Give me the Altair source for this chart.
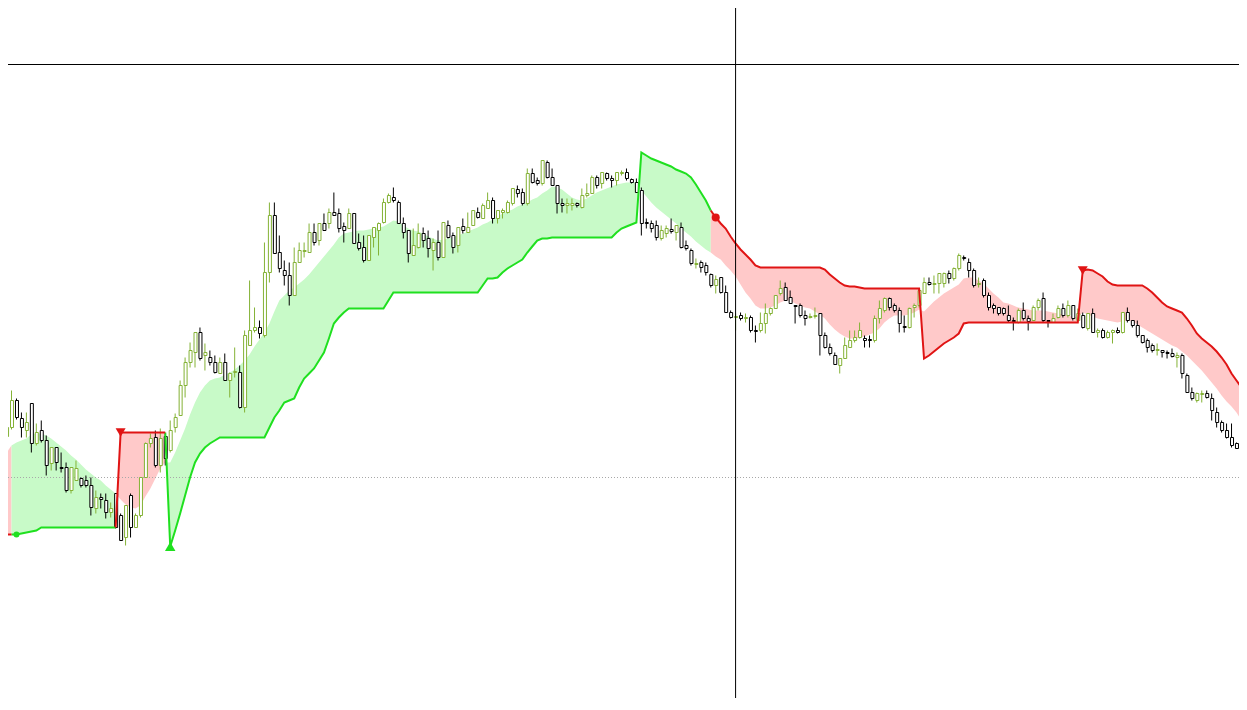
import altair as alt
import pandas as pd

# ---- candle data (price units), index 0..249 ----
open_ = [
    564, 573, 600, 582, 570, 597, 557, 570, 560, 537,
    553, 533, 533, 510, 520, 522, 520, 515, 492, 503,
    500, 488, 507, 485, 463, 505, 473, 485, 523, 557,
    563, 535, 564, 550, 573, 585, 615, 638, 648, 668,
    645, 643, 638, 627, 638, 620, 628, 628, 593, 655,
    670, 673, 665, 728, 785, 748, 730, 725, 705, 738,
    749, 748, 768, 760, 777, 777, 788, 787, 774, 772,
    787, 758, 753, 740, 763, 770, 778, 798, 803, 798,
    777, 770, 745, 753, 767, 762, 750, 758, 743, 775,
    765, 755, 774, 768, 775, 788, 782, 792, 800, 782,
    788, 788, 797, 811, 808, 797, 827, 820, 817, 838,
    823, 815, 797, 795, 795, 797, 793, 805, 807, 823,
    817, 827, 822, 820, 827, 828, 821, 818, 810, 778,
    777, 775, 762, 767, 771, 768, 773, 755, 750, 736,
    738, 735, 726, 715, 723, 708, 688, 683, 685, 682,
    683, 670, 670, 677, 687, 692, 707, 713, 703, 695,
    695, 685, 683, 684, 687, 665, 653, 645, 635, 642,
    653, 660, 663, 662, 661, 660, 682, 690, 702, 695,
    690, 674, 673, 693, 695, 707, 718, 716, 717, 717,
    727, 722, 732, 743, 738, 730, 716, 720, 705, 695,
    693, 692, 685, 680, 678, 690, 682, 680, 693, 702,
    680, 678, 683, 692, 685, 695, 680, 685, 672, 687,
    668, 670, 663, 668, 670, 668, 688, 680, 675, 665,
    660, 655, 650, 650, 648, 647, 643, 645, 625, 608,
    600, 606, 607, 602, 588, 578, 570, 563, 557, 553,
]
high = [
    582, 610, 602, 588, 588, 597, 577, 580, 565, 553,
    553, 548, 538, 533, 540, 523, 525, 523, 510, 507,
    507, 498, 507, 487, 495, 507, 487, 523, 558, 567,
    570, 572, 567, 580, 587, 620, 643, 658, 668, 673,
    657, 650, 645, 643, 647, 628, 653, 635, 670, 720,
    693, 680, 758, 798, 798, 765, 740, 738, 753, 758,
    758, 777, 777, 777, 787, 792, 808, 792, 778, 792,
    787, 767, 765, 765, 773, 778, 802, 807, 813, 800,
    783, 770, 772, 777, 773, 770, 762, 770, 778, 780,
    768, 773, 782, 788, 790, 793, 797, 808, 803, 790,
    792, 800, 812, 815, 812, 832, 832, 823, 840, 840,
    832, 815, 802, 802, 802, 798, 812, 817, 825, 825,
    828, 828, 825, 828, 830, 832, 822, 822, 813, 782,
    780, 780, 775, 775, 782, 775, 778, 760, 752, 742,
    740, 738, 727, 725, 723, 715, 690, 687, 688, 687,
    685, 675, 688, 697, 693, 705, 720, 718, 710, 695,
    697, 690, 687, 693, 687, 668, 657, 648, 642, 663,
    670, 670, 678, 665, 665, 685, 700, 703, 703, 697,
    693, 685, 693, 697, 710, 723, 723, 725, 727, 728,
    730, 733, 747, 745, 742, 732, 723, 722, 708, 697,
    693, 693, 695, 683, 692, 698, 685, 695, 702, 708,
    680, 687, 695, 697, 700, 695, 692, 688, 687, 692,
    672, 672, 670, 671, 673, 688, 693, 680, 680, 665,
    662, 657, 657, 650, 650, 652, 648, 647, 627, 613,
    608, 610, 610, 607, 593, 580, 577, 577, 558, 553,
]
low = [
    562, 571, 581, 563, 563, 548, 555, 558, 525, 530,
    530, 528, 508, 507, 520, 513, 513, 485, 487, 492,
    482, 483, 472, 460, 455, 463, 473, 483, 523, 553,
    533, 528, 535, 548, 568, 585, 603, 633, 633, 640,
    630, 635, 627, 627, 620, 603, 623, 592, 588, 655,
    668, 662, 663, 718, 747, 728, 715, 695, 705, 738,
    743, 748, 755, 755, 770, 772, 785, 768, 758, 772,
    757, 750, 738, 740, 753, 745, 777, 797, 798, 777,
    762, 738, 745, 752, 753, 743, 730, 740, 743, 762,
    747, 748, 767, 768, 775, 782, 782, 792, 777, 777,
    782, 787, 795, 803, 795, 795, 817, 815, 815, 822,
    815, 787, 788, 787, 790, 793, 792, 803, 807, 812,
    812, 820, 813, 815, 825, 820, 817, 808, 765, 772,
    768, 760, 760, 763, 767, 760, 752, 750, 735, 732,
    728, 725, 713, 707, 707, 688, 682, 670, 680, 678,
    668, 658, 668, 667, 685, 692, 705, 700, 697, 677,
    683, 675, 682, 682, 645, 652, 645, 636, 627, 642,
    653, 658, 662, 653, 653, 658, 677, 688, 690, 688,
    668, 668, 672, 683, 693, 707, 715, 707, 707, 713,
    717, 720, 730, 740, 723, 713, 713, 703, 690, 687,
    685, 685, 678, 670, 677, 680, 670, 680, 690, 678,
    673, 678, 682, 683, 683, 680, 680, 672, 670, 668,
    663, 662, 662, 657, 667, 667, 678, 673, 663, 657,
    648, 648, 645, 643, 642, 643, 633, 622, 608, 600,
    598, 598, 602, 580, 573, 568, 562, 553, 552, 527,
]
close = [
    573, 600, 583, 573, 578, 557, 568, 560, 535, 553,
    538, 532, 510, 533, 532, 515, 515, 493, 503, 501,
    488, 492, 473, 460, 495, 473, 485, 523, 557, 562,
    535, 562, 542, 570, 583, 615, 638, 650, 668, 642,
    648, 638, 628, 638, 620, 627, 629, 593, 665, 670,
    673, 667, 728, 785, 747, 732, 725, 705, 738, 750,
    750, 768, 758, 777, 770, 788, 785, 772, 770, 787,
    757, 752, 740, 765, 773, 777, 798, 805, 800, 777,
    768, 747, 755, 767, 760, 752, 758, 743, 778, 763,
    753, 773, 770, 773, 790, 783, 795, 800, 782, 790,
    790, 798, 812, 807, 797, 827, 818, 817, 840, 823,
    815, 797, 795, 797, 797, 795, 805, 807, 823, 815,
    828, 822, 820, 828, 828, 822, 818, 808, 777, 777,
    772, 763, 770, 772, 769, 775, 753, 752, 737, 737,
    733, 728, 715, 721, 708, 688, 683, 684, 682, 683,
    670, 669, 677, 687, 692, 705, 712, 700, 697, 694,
    685, 682, 684, 685, 665, 653, 647, 636, 642, 655,
    660, 663, 670, 660, 660, 682, 692, 702, 693, 690,
    677, 673, 692, 695, 710, 718, 716, 717, 727, 727,
    722, 732, 745, 742, 730, 715, 717, 705, 693, 692,
    687, 687, 680, 679, 690, 682, 679, 693, 700, 680,
    679, 682, 692, 685, 695, 682, 687, 673, 687, 668,
    670, 663, 668, 670, 668, 688, 680, 675, 665, 658,
    653, 650, 651, 648, 647, 644, 645, 627, 608, 602,
    607, 607, 603, 590, 578, 570, 563, 555, 552, 527,
]

# ---- trailing-stop indicator ----
stop = [
    466, 466, 466, 467, 468, 469, 470, 473, 473, 473,
    473, 473, 473, 473, 473, 473, 473, 473, 473, 473,
    473, 473, 473, 568, 568, 568, 568, 568, 568, 568,
    568, 568, 568, 454, 470, 487, 505, 523, 538, 547,
    553, 557, 560, 563, 563, 563, 563, 563, 563, 563,
    563, 563, 563, 573, 583, 590, 598, 600, 602, 613,
    622, 627, 632, 640, 648, 662, 677, 683, 688, 692,
    692, 692, 692, 692, 692, 692, 692, 700, 708, 708,
    708, 708, 708, 708, 708, 708, 708, 708, 708, 708,
    708, 708, 708, 708, 708, 708, 715, 722, 722, 723,
    728, 732, 735, 738, 741, 748, 754, 760, 762, 762,
    763, 763, 763, 763, 763, 763, 763, 763, 763, 763,
    763, 763, 763, 768, 772, 774, 776, 778, 848, 845,
    842, 840, 838, 836, 834, 831, 829, 827, 823, 816,
    808, 800, 790, 783, 777, 772, 764, 757, 751, 746,
    741, 735, 733, 733, 733, 733, 733, 733, 733, 733,
    733, 733, 733, 733, 733, 731, 726, 722, 718, 715,
    714, 714, 713, 712, 712, 712, 712, 712, 712, 712,
    712, 712, 712, 712, 712, 642, 645, 649, 653, 657,
    660, 663, 667, 677, 678, 678, 678, 678, 678, 678,
    678, 678, 678, 678, 678, 678, 678, 678, 678, 678,
    678, 678, 678, 678, 678, 678, 678, 730, 731, 730,
    727, 724, 719, 716, 715, 715, 715, 715, 715, 715,
    712, 708, 703, 698, 694, 692, 690, 688, 682, 675,
    667, 662, 658, 654, 649, 643, 636, 627, 620, 613,
]
ema = [
    548, 555, 558, 560, 562, 566, 567, 567, 565, 562,
    558, 554, 550, 545, 541, 536, 531, 527, 523, 520,
    515, 511, 507, 501, 496, 493, 492, 495, 504, 512,
    522, 532, 538, 538, 548, 560, 572, 586, 598, 608,
    615, 620, 622, 623, 626, 628, 631, 635, 640, 646,
    654, 661, 668, 677, 689, 700, 705, 710, 713, 717,
    721, 726, 732, 738, 744, 750, 756, 763, 767, 768,
    769, 770, 770, 771, 772, 773, 774, 777, 780, 779,
    775, 772, 770, 769, 767, 764, 762, 760, 761, 762,
    763, 765, 767, 769, 771, 773, 776, 778, 781, 784,
    787, 789, 791, 794, 796, 798, 801, 803, 807, 810,
    814, 813, 811, 807, 803, 801, 800, 802, 805, 808,
    810, 812, 814, 816, 817, 818, 818, 818, 810, 804,
    798, 793, 789, 785, 781, 777, 772, 768, 764, 759,
    755, 751, 748, 744, 741, 735, 730, 724, 716, 708,
    702, 695, 692, 692, 693, 695, 698, 700, 700, 697,
    695, 693, 692, 689, 686, 682, 676, 671, 667, 664,
    662, 662, 663, 664, 666, 668, 672, 678, 682, 685,
    685, 685, 686, 688, 691, 689, 694, 699, 703, 707,
    710, 713, 716, 722, 723, 723, 720, 717, 712, 707,
    703, 698, 697, 695, 693, 692, 691, 690, 690, 690,
    689, 688, 687, 686, 685, 684, 683, 688, 686, 684,
    682, 681, 680, 679, 678, 679, 680, 679, 676, 673,
    670, 667, 664, 661, 658, 655, 653, 649, 645, 640,
    635, 630, 624, 618, 612, 605, 599, 594, 588, 580,
]
# trend runs: (first index, last index, direction)
trend_runs = [(0, 1, "down"), (2, 22, "up"), (23, 32, "down"), (33, 142, "up"), (143, 249, "down")]
signal_idx = [2, 23, 33, 143, 217]
signal_kind = ["flip_up", "sell", "buy", "flip_down", "sell"]

crosshair_idx = 147
crosshair_price = 936
level_price = 523

# ---- styling ----
CANDLE_UP = "#84b236"
CANDLE_DN = "#000000"
LINE_UP = "#1fe01f"
LINE_DN = "#e01414"
FILL_UP = "#c8fac8"
FILL_DN = "#ffc9c9"

n = len(close)
candles = pd.DataFrame({"i": list(range(n)), "open": open_, "high": high,
                        "low": low, "close": close})
candles["dir"] = ["up" if c >= o else "down" for o, c in zip(open_, close)]

rows = []
for seg, (a, b, t) in enumerate(trend_runs):
    for i in range(max(a - 1, 0), b + 1):
        rows.append({"i": i, "stop": stop[i], "ema": ema[i], "seg": seg, "trend": t})
band = pd.DataFrame(rows)

sig = pd.DataFrame({"i": signal_idx, "kind": signal_kind,
                    "stop": [stop[i] for i in signal_idx]})

xs = alt.Scale(domain=[1.3, 247.5], nice=False, zero=False)
ys = alt.Scale(domain=[302.5, 992.5], nice=False, zero=False)
X = alt.X("i:Q", scale=xs, axis=None)


def Y(field):
    return alt.Y(field, type="quantitative", scale=ys, axis=None, stack=None)


layers = []
for seg, (a, b, t) in enumerate(trend_runs):
    fc = FILL_UP if t == "up" else FILL_DN
    layers.append(
        alt.Chart(band).transform_filter(alt.datum.seg == seg)
        .mark_area(color=fc, fill=fc, opacity=1, fillOpacity=1, clip=True, orient="vertical")
        .encode(x=X, y=Y("stop"), y2=alt.Y2("ema:Q"))
    )

layers.append(
    alt.Chart(pd.DataFrame({"p": [level_price]}))
    .mark_rule(color="#a8a8a8", strokeWidth=1, strokeDash=[1, 2])
    .encode(y=Y("p"))
)

for d, col in (("up", CANDLE_UP), ("down", CANDLE_DN)):
    base = alt.Chart(candles).transform_filter(alt.datum.dir == d)
    layers.append(base.mark_rule(color=col, strokeWidth=1, clip=True)
                  .encode(x=X, y=Y("low"), y2="high:Q"))
    layers.append(base.mark_bar(size=3, xOffset=0.5, fill="white", stroke=col,
                                strokeWidth=1, clip=True)
                  .encode(x=X, y=Y("open"), y2="close:Q"))

for t, lc in (("up", LINE_UP), ("down", LINE_DN)):
    layers.append(
        alt.Chart(band).transform_filter(alt.datum.trend == t)
        .mark_line(color=lc, strokeWidth=2, clip=True)
        .encode(x=X, y=Y("stop"), detail="seg:N", order="i:Q")
    )

marker_specs = [
    ("flip_up", "circle", LINE_UP, 36),
    ("flip_down", "circle", LINE_DN, 64),
    ("sell", "triangle-down", LINE_DN, 100),
    ("buy", "triangle-up", LINE_UP, 110),
]
for kind, shape, col, size in marker_specs:
    layers.append(
        alt.Chart(sig).transform_filter(alt.datum.kind == kind)
        .mark_point(shape=shape, filled=True, color=col, size=size, opacity=1, clip=True)
        .encode(x=X, y=Y("stop"))
    )

layers.append(
    alt.Chart(pd.DataFrame({"i": [crosshair_idx]}))
    .mark_rule(color="black", strokeWidth=1)
    .encode(x=X)
)
layers.append(
    alt.Chart(pd.DataFrame({"p": [crosshair_price]}))
    .mark_rule(color="black", strokeWidth=1)
    .encode(y=Y("p"))
)

chart = (
    alt.layer(*layers)
    .properties(width=1231, height=690, autosize=alt.AutoSizeParams(type="none"), padding=0)
    .configure_view(stroke=None)
)

chart.save("out.html", embed_options={"renderer": "svg", "actions": False})
